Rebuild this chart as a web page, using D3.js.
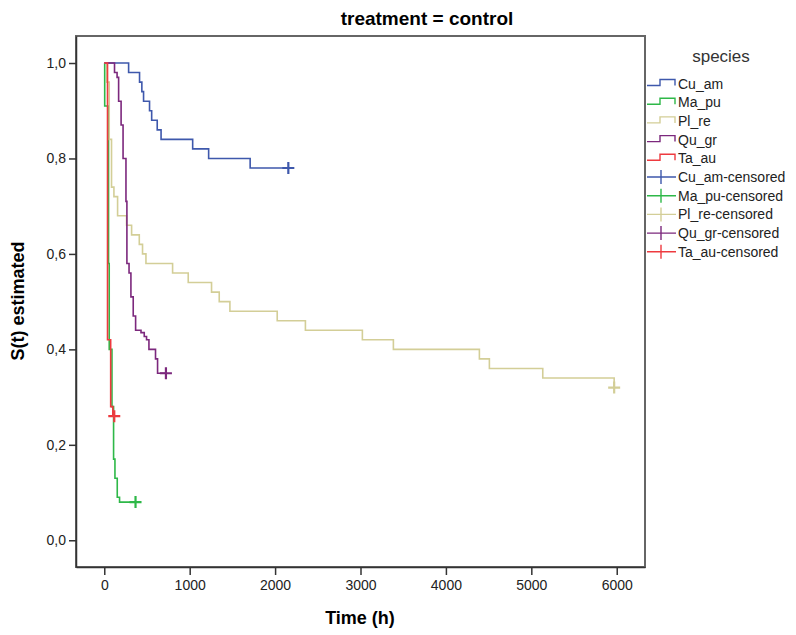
<!DOCTYPE html>
<html>
<head>
<meta charset="utf-8">
<script src="https://cdn.jsdelivr.net/npm/d3@7/dist/d3.min.js"></script>
<style>
  body { margin: 0; background: #fff; }
  svg { font-family: "Liberation Sans", Arial, sans-serif; }
</style>
</head>
<body>
<svg id="chart" width="796" height="635"></svg>
<script>
/************
** data (Kaplan-Meier steps, last point = censored)
*************/
var species = ["Cu_am", "Ma_pu", "Pl_re", "Qu_gr", "Ta_au"];
var colors = ["#3e58ac", "#2eb848", "#d3ce97", "#7c287d", "#ee3a3f"];

var cuAmTimes = [0, 285, 413, 440, 460, 530, 555, 620, 665, 1035, 1222, 1708, 2155];
var cuAmSurv  = [1, 0.98, 0.96, 0.94, 0.92, 0.90, 0.88, 0.86, 0.84, 0.82, 0.80, 0.78, 0.78];

var maPuTimes = [0, 5, 50, 58, 90, 109, 125, 152, 179, 366];
var maPuSurv  = [1, 0.91, 0.58, 0.40, 0.28, 0.17, 0.13, 0.09, 0.08, 0.08];

var plReTimes = [0, 30, 58, 85, 113, 156, 261, 320, 410, 448, 488, 800, 983, 1256, 1346, 1471, 2025, 2355, 3022, 3385, 4392, 4509, 5134, 5970, 5970];
var plReSurv  = [1, 0.96, 0.84, 0.74, 0.72, 0.68, 0.66, 0.64, 0.62, 0.60, 0.58, 0.56, 0.54, 0.52, 0.50, 0.48, 0.46, 0.44, 0.42, 0.40, 0.38, 0.36, 0.34, 0.32, 0.32];

var quGrTimes = [0, 120, 150, 168, 197, 220, 254, 265, 290, 312, 339, 367, 430, 468, 495, 523, 600, 624, 722];
var quGrSurv  = [1, 0.98, 0.97, 0.92, 0.87, 0.80, 0.71, 0.58, 0.56, 0.51, 0.47, 0.44, 0.435, 0.427, 0.42, 0.40, 0.38, 0.35, 0.35];

var taAuTimes = [0, 38, 75, 100, 117];
var taAuSurv  = [1, 0.42, 0.28, 0.26, 0.26];

var xTicks = [0, 1000, 2000, 3000, 4000, 5000, 6000];
var yTicks = [0, 0.2, 0.4, 0.6, 0.8, 1.0];

var series = [
    {name: "Cu_am", times: cuAmTimes, surv: cuAmSurv},
    {name: "Ma_pu", times: maPuTimes, surv: maPuSurv},
    {name: "Pl_re", times: plReTimes, surv: plReSurv},
    {name: "Qu_gr", times: quGrTimes, surv: quGrSurv},
    {name: "Ta_au", times: taAuTimes, surv: taAuSurv}
];

/************
** scales
*************/
var plot = {left: 76, right: 645, top: 36, bottom: 567};
var x = d3.scaleLinear().domain([-331, 6331]).range([plot.left, plot.right]);
var y = d3.scaleLinear().domain([-0.056, 1.0566]).range([plot.bottom, plot.top]);

var svg = d3.select("#chart");
var comma = function(d){ return d3.format(".1f")(d).replace(".", ","); };

/************
** axes + frame
*************/
svg.append("rect")
    .attr("x", plot.left).attr("y", plot.top)
    .attr("width", plot.right - plot.left).attr("height", plot.bottom - plot.top)
    .attr("fill", "none").attr("stroke", "#666").attr("stroke-width", 2);

var xAxis = svg.append("g")
    .attr("transform", "translate(0," + plot.bottom + ")")
    .call(d3.axisBottom(x).tickValues(xTicks).tickSize(8).tickSizeOuter(0).tickPadding(5).tickFormat(d3.format("d")));
var yAxis = svg.append("g")
    .attr("transform", "translate(" + plot.left + ",0)")
    .call(d3.axisLeft(y).tickValues(yTicks).tickSize(7).tickSizeOuter(0).tickPadding(3).tickFormat(comma));

[xAxis, yAxis].forEach(function(ax){
    ax.select(".domain").attr("stroke", "#333").attr("stroke-width", 1.5);
    ax.selectAll(".tick line").attr("stroke", "#333").attr("stroke-width", 1.5);
    ax.selectAll(".tick text").attr("fill", "#222")
        .style("font-family", "'Liberation Sans', Arial, sans-serif")
        .style("font-size", "14px");
});

/************
** curves
*************/
var line = d3.line()
    .x(function(d){ return x(d[0]); })
    .y(function(d){ return y(d[1]); })
    .curve(d3.curveStepAfter);

series.forEach(function(s, i){
    var pts = s.times.map(function(t, j){ return [t, s.surv[j]]; });
    svg.append("path")
        .datum(pts)
        .attr("d", line)
        .attr("fill", "none")
        .attr("stroke", colors[i])
        .attr("stroke-width", 1.6);
});

// censored markers
series.forEach(function(s, i){
    var last = s.times.length - 1;
    var cx = x(s.times[last]), cy = y(s.surv[last]);
    svg.append("path")
        .attr("d", "M" + (cx - 6) + "," + cy + "H" + (cx + 6) + "M" + cx + "," + (cy - 6) + "V" + (cy + 6))
        .attr("stroke", colors[i])
        .attr("stroke-width", 2.2)
        .attr("fill", "none");
});

/************
** labels
*************/
svg.append("text")
    .attr("x", 427).attr("y", 25)
    .attr("text-anchor", "middle")
    .style("font-weight", "bold").style("font-size", "19px")
    .text("treatment = control");

svg.append("text")
    .attr("x", 360).attr("y", 624)
    .attr("text-anchor", "middle")
    .style("font-weight", "bold").style("font-size", "18px")
    .text("Time (h)");

svg.append("text")
    .attr("transform", "translate(24,301) rotate(-90)")
    .attr("text-anchor", "middle")
    .style("font-weight", "bold").style("font-size", "18px")
    .text("S(t) estimated");

/************
** legend
*************/
var legend = svg.append("g");
legend.append("text")
    .attr("x", 721).attr("y", 62)
    .attr("text-anchor", "middle")
    .style("font-size", "17px").attr("fill", "#333")
    .text("species");

var legendItems = species.concat(species.map(function(s){ return s + "-censored"; }));
legendItems.forEach(function(label, i){
    var cy = 83.5 + i * 18.7;
    var col = colors[i % 5];
    var g = legend.append("g");
    if (i < 5) {
        g.append("path")
            .attr("d", "M647," + (cy + 2) + "H660V" + (cy - 4) + "H675V" + (cy + 2))
            .attr("fill", "none").attr("stroke", col).attr("stroke-width", 1.4);
    } else {
        g.append("path")
            .attr("d", "M647," + cy + "H676M661," + (cy - 7) + "V" + (cy + 7))
            .attr("fill", "none").attr("stroke", col).attr("stroke-width", 1.4);
    }
    g.append("text")
        .attr("x", 678).attr("y", cy + 5)
        .style("font-size", "14px").attr("fill", "#222")
        .text(label);
});
</script>
</body>
</html>
